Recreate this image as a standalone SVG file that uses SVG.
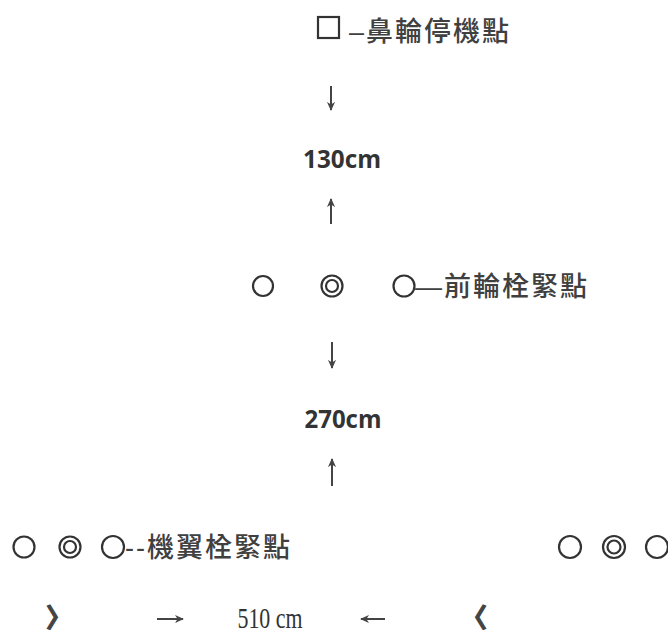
<svg xmlns="http://www.w3.org/2000/svg" width="668" height="635" viewBox="0 0 668 635">
<style>
.cjk{font-family:"Liberation Sans","Noto Sans CJK TC",sans-serif;font-size:27px;font-weight:500;fill:#404040;letter-spacing:2px}
.dim{font-family:"Open Sans","Liberation Sans",sans-serif;font-weight:bold;font-size:25px;fill:#333}
.serif{font-family:"Liberation Serif","Noto Serif",serif;font-size:30px;fill:#333}
.c{fill:none;stroke:#333;stroke-width:2.2}
.arr{stroke:#444;stroke-width:2;fill:none}
.chev{font-family:"Noto Sans CJK TC",sans-serif;font-weight:bold;font-size:26px;fill:#444;stroke:#444;stroke-width:1.2}
</style>
<defs>
<marker id="ah" viewBox="0 0 10 10" refX="9" refY="5" markerWidth="9" markerHeight="9" orient="auto" markerUnits="userSpaceOnUse">
<path d="M0,0.5 L10,5 L0,9.5 L3,5 Z" fill="#444"/>
</marker>
</defs>
<rect width="668" height="635" fill="#fff"/>

<g id="nose-stop">
<rect x="318" y="17" width="21" height="21" class="c" stroke-width="1.5"/>
<text x="349" y="41" class="cjk">–鼻輪停機點</text>
</g>

<g id="dim-130">
<text x="342" y="168" class="dim" text-anchor="middle" textLength="78" lengthAdjust="spacingAndGlyphs">130cm</text>
</g>

<g id="nose-tie">
<circle cx="263" cy="286" r="10" class="c"/>
<circle cx="332" cy="286" r="10.5" class="c"/>
<circle cx="332" cy="286" r="6" class="c"/>
<circle cx="404" cy="286" r="10.5" class="c"/>
<text x="415" y="296" class="cjk">—前輪栓緊點</text>
</g>

<g id="dim-270">
<text x="343" y="428" class="dim" text-anchor="middle" textLength="77" lengthAdjust="spacingAndGlyphs">270cm</text>
</g>

<g id="wing-tie-left">
<circle cx="24" cy="547" r="10.5" class="c"/>
<circle cx="70" cy="547" r="10.5" class="c"/>
<circle cx="70" cy="547" r="6" class="c"/>
<circle cx="113" cy="547" r="11" class="c"/>
<text x="125" y="557" class="cjk">--機翼栓緊點</text>
</g>

<g id="wing-tie-right">
<circle cx="570" cy="547" r="11" class="c"/>
<circle cx="614" cy="547" r="11" class="c"/>
<circle cx="614" cy="547" r="6.5" class="c"/>
<circle cx="657" cy="547" r="11" class="c"/>
</g>

<g id="dim-510">
<text x="46" y="627" class="chev">〉</text>
<text x="270" y="628" class="serif" text-anchor="middle" textLength="65" lengthAdjust="spacingAndGlyphs">510 cm</text>
<text x="487" y="627" class="chev" text-anchor="end">〈</text>
</g>

<g id="connectors">
<line x1="331" y1="86" x2="331" y2="110" class="arr" marker-end="url(#ah)"/>
<line x1="331" y1="224" x2="331" y2="199" class="arr" marker-end="url(#ah)"/>
<line x1="332" y1="342" x2="332" y2="368" class="arr" marker-end="url(#ah)"/>
<line x1="332" y1="486" x2="332" y2="459" class="arr" marker-end="url(#ah)"/>
<line x1="157" y1="619" x2="183" y2="619" class="arr" marker-end="url(#ah)"/>
<line x1="385" y1="619" x2="361" y2="619" class="arr" marker-end="url(#ah)"/>
</g>
</svg>
